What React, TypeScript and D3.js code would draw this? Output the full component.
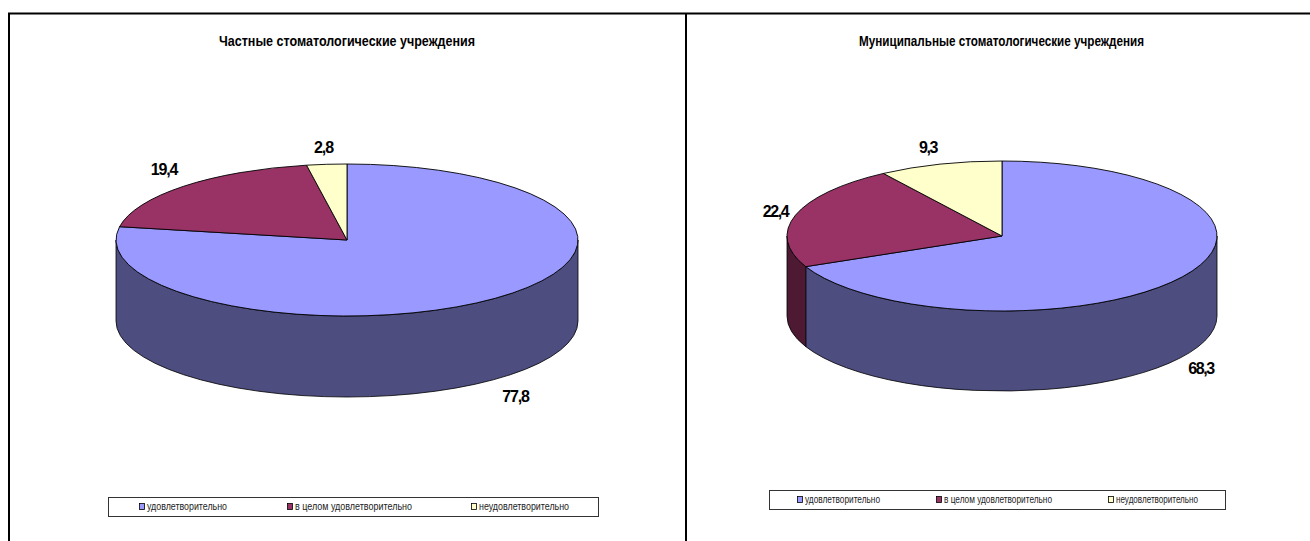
import React from "react";
import * as d3 from "d3";

const categories = ["удовлетворительно", "в целом удовлетворительно", "неудовлетворительно"];
const leftValues = [77.8, 19.4, 2.8];
const rightValues = [68.3, 22.4, 9.3];
const leftLabels = ["77,8", "19,4", "2,8"];
const rightLabels = ["68,3", "22,4", "9,3"];
const topColors = ["#9999ff", "#993366", "#ffffcc"];
const sideColors = ["#4d4d80", "#4d1933", "#808066"];
const FONT = "'Liberation Sans', Arial, sans-serif";

type Cfg = {
  title: string; titleX: number; titleY: number; titleW: number;
  values: number[]; labels: string[]; labelSpacing: number;
  cx: number; cy: number; rx: number; ry: number; depth: number;
  labelPos: [number, number][];
  legend: { x: number; y: number; w: number; h: number; items: number[]; widths: number[] };
};

const charts: Cfg[] = [
  {
    title: "Частные стоматологические учреждения", titleX: 219, titleY: 46, titleW: 256,
    values: leftValues, labels: leftLabels, labelSpacing: -1.1,
    cx: 347, cy: 240, rx: 231, ry: 76, depth: 81,
    labelPos: [[515.5, 402], [164, 175], [323.5, 153]],
    legend: { x: 108, y: 497, w: 490, h: 19, items: [139, 287, 471], widths: [80, 117, 90] },
  },
  {
    title: "Муниципальные стоматологические учреждения", titleX: 859, titleY: 46, titleW: 285,
    values: rightValues, labels: rightLabels, labelSpacing: -1.4,
    cx: 1002, cy: 236, rx: 215, ry: 75, depth: 80,
    labelPos: [[1201, 374], [775.5, 217], [928, 153]],
    legend: { x: 769, y: 490, w: 456, h: 19, items: [797, 936, 1108], widths: [75, 108, 82] },
  },
];

function Pie3D({ c }: { c: Cfg }) {
  const arcs = d3.pie<number>().sort(null).startAngle(0).endAngle(2 * Math.PI)(c.values);
  const px = (a: number) => c.cx + c.rx * Math.sin(a);
  const py = (a: number, dy = 0) => c.cy - c.ry * Math.cos(a) + dy;
  const topPath = (a0: number, a1: number) => {
    const large = a1 - a0 > Math.PI ? 1 : 0;
    return `M${c.cx},${c.cy}L${px(a0)},${py(a0)}A${c.rx},${c.ry} 0 ${large} 1 ${px(a1)},${py(a1)}Z`;
  };
  const sidePath = (a0: number, a1: number) => {
    const s = Math.max(a0, Math.PI / 2);
    const e = Math.min(a1, (3 * Math.PI) / 2);
    if (e <= s) return null;
    return `M${px(s)},${py(s)}A${c.rx},${c.ry} 0 0 1 ${px(e)},${py(e)}L${px(e)},${py(e, c.depth)}A${c.rx},${c.ry} 0 0 0 ${px(s)},${py(s, c.depth)}Z`;
  };
  return (
    <g>
      {arcs.map((a, i) => {
        const d = sidePath(a.startAngle, a.endAngle);
        return d ? <path key={i} d={d} fill={sideColors[i]} stroke="#000" strokeWidth={0.8} /> : null;
      })}
      {arcs.map((a, i) => (
        <path key={i} d={topPath(a.startAngle, a.endAngle)} fill={topColors[i]} stroke="#000" strokeWidth={0.9} strokeLinejoin="round" />
      ))}
      {c.labels.map((l, i) => (
        <text key={i} x={c.labelPos[i][0]} y={c.labelPos[i][1]} textAnchor="middle" fontFamily={FONT}
          fontWeight="bold" fontSize={16} letterSpacing={c.labelSpacing} fill="#000">{l}</text>
      ))}
    </g>
  );
}

function Legend({ c }: { c: Cfg }) {
  const l = c.legend;
  const midY = l.y + l.h / 2;
  return (
    <g>
      <rect x={l.x + 0.5} y={l.y + 0.5} width={l.w} height={l.h} fill="#fff" stroke="#333" strokeWidth={1} />
      {categories.map((t, i) => (
        <g key={t}>
          <rect x={l.items[i] + 0.5} y={midY - 3} width={5} height={6} fill={topColors[i]} stroke="#000" strokeWidth={0.8} />
          <text x={l.items[i] + 8} y={midY + 3.5} fontFamily={FONT} fontSize={10} fill="#222"
            textLength={l.widths[i]} lengthAdjust="spacingAndGlyphs">{t}</text>
        </g>
      ))}
    </g>
  );
}

export default function App() {
  return (
    <svg width={1310} height={541} style={{ position: "absolute", left: 0, top: 0, display: "block", background: "#fff" }}>
      <path d="M9,541V13.5H1310" fill="none" stroke="#000" strokeWidth={2} />
      <line x1={686} y1={13} x2={686} y2={541} stroke="#000" strokeWidth={2} />
      {charts.map((c) => (
        <g key={c.title}>
          <text x={c.titleX} y={c.titleY} fontFamily={FONT} fontWeight="bold" fontSize={14} fill="#000"
            textLength={c.titleW} lengthAdjust="spacingAndGlyphs">{c.title}</text>
          <Pie3D c={c} />
          <Legend c={c} />
        </g>
      ))}
    </svg>
  );
}
